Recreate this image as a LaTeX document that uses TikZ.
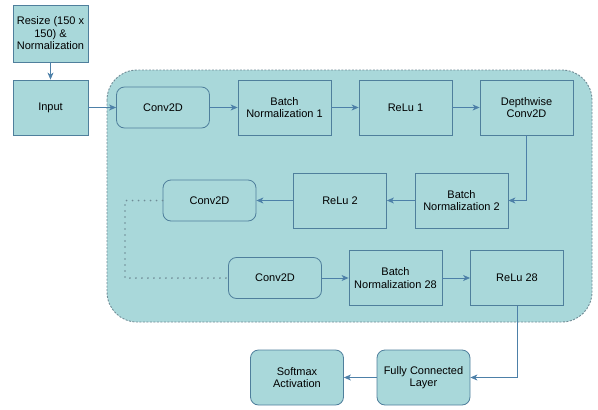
\documentclass[tikz,border=0pt]{standalone}
\usepackage{fontspec}
\setmainfont{Liberation Sans}
\usetikzlibrary{arrows.meta}
\definecolor{tealfill}{HTML}{A9D8DA}
\definecolor{edgeblue}{HTML}{4F7F9C}
\definecolor{arrowblue}{HTML}{4D80A8}
\definecolor{regionedge}{HTML}{6F8C96}
\begin{document}
\begin{tikzpicture}[x=1pt,y=-1pt,
  font=\fontsize{11}{12.5}\selectfont,
  layerbox/.style={draw=edgeblue,fill=tealfill,line width=0.8pt,minimum width=93pt,minimum height=55pt,align=center,inner sep=2pt},
  convbox/.style={layerbox,rounded corners=8pt,minimum height=41pt},
  headbox/.style={layerbox,rounded corners=8pt},
  flow/.style={draw=arrowblue,line width=0.9pt,-{Stealth[length=7pt,width=6pt,inset=2pt]}},
  skip/.style={draw=regionedge,line width=1.8pt,line cap=round,dash pattern=on 0pt off 6pt}]
\useasboundingbox (0,0) rectangle (598,410);
% grouped block
\draw[fill=tealfill,draw=regionedge,line width=0.9pt,dash pattern=on 2pt off 1.5pt,rounded corners=30pt] (107,70) rectangle (592,322);
% preprocessing
\node[layerbox,minimum width=75pt,minimum height=57pt] (resize) at (50.5,33.5) {Resize (150 x\\150) \&\\Normalization};
\node[layerbox,minimum width=75pt] (input) at (50.5,107.5) {Input};
% first row
\node[convbox] (conv1) at (163,107.5) {Conv2D};
\node[layerbox] (bn1) at (284.5,107.5) {Batch\\Normalization 1};
\node[layerbox] (relu1) at (405.5,107.5) {ReLu 1};
\node[layerbox] (dw) at (526.5,107.5) {Depthwise\\Conv2D};
% second row
\node[layerbox] (bn2) at (461.5,200.5) {Batch\\Normalization 2};
\node[layerbox] (relu2) at (340,200.5) {ReLu 2};
\node[convbox] (conv2) at (209.5,200.5) {Conv2D};
% third row
\node[convbox] (conv28) at (275,278) {Conv2D};
\node[layerbox] (bn28) at (395.5,278) {Batch\\Normalization 28};
\node[layerbox] (relu28) at (517,278) {ReLu 28};
% classifier head
\node[headbox] (fc) at (423.5,377.5) {Fully Connected\\Layer};
\node[headbox] (soft) at (297,377.5) {Softmax\\Activation};
% connectors
\draw[flow] (resize) -- (input);
\draw[flow] (input) -- (conv1);
\draw[flow] (conv1) -- (bn1);
\draw[flow] (bn1) -- (relu1);
\draw[flow] (relu1) -- (dw);
\draw[flow] (dw.south) |- (bn2.east);
\draw[flow] (bn2) -- (relu2);
\draw[flow] (relu2) -- (conv2);
\coordinate (skiptop) at (125,200.5);
\coordinate (skipbot) at (125,278);
\draw[skip] (conv2.west) -- (skiptop) -- (skipbot) -- (conv28.west);
\draw[flow] (conv28) -- (bn28);
\draw[flow] (bn28) -- (relu28);
\draw[flow] (relu28.south) |- (fc.east);
\draw[flow] (fc) -- (soft);
\end{tikzpicture}
\end{document}
